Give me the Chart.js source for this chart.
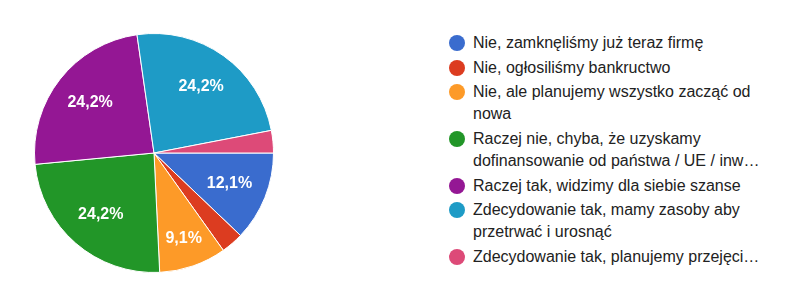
<!DOCTYPE html>
<html>
<head>
<meta charset="utf-8">
<script src="https://cdn.jsdelivr.net/npm/chart.js@4/dist/chart.umd.min.js"></script>
<style>
  html, body { margin: 0; padding: 0; background: #fff; }
  body { width: 798px; height: 292px; position: relative; overflow: hidden;
         font-family: "Liberation Sans", Arial, sans-serif; }
  #pieBox { position: absolute; left: 34px; top: 33px; width: 240px; height: 240px; }
  #legend { position: absolute; left: 449px; top: 32px; margin: 0; padding: 0; list-style: none; }
  #legend li { display: flex; align-items: flex-start; margin-bottom: 2.7px; }
  #legend .dot { width: 16px; height: 16px; border-radius: 50%; margin-top: 3px; flex: none; }
  #legend .txt { margin-left: 8px; width: 300px; font-size: 16px; line-height: 22px; color: #222; }
</style>
</head>
<body>
<div id="pieBox"><canvas id="pie"></canvas></div>
<ul id="legend"></ul>
<script>
// Answers (Polish survey), as shown in the legend
const categories = [
  'Nie, zamknęliśmy już teraz firmę',
  'Nie, ogłosiliśmy bankructwo',
  'Nie, ale planujemy wszystko zacząć od nowa',
  'Raczej nie, chyba, że uzyskamy dofinansowanie od państwa / UE / inw…',
  'Raczej tak, widzimy dla siebie szanse',
  'Zdecydowanie tak, mamy zasoby aby przetrwać i urosnąć',
  'Zdecydowanie tak, planujemy przejęci…',
];

// Number of responses per answer (33 in total)
const responses = [4, 1, 3, 8, 8, 8, 1];

const sliceColors = ['#3a6cce', '#dc3c20', '#fd9a28', '#229628', '#941794', '#1e9bc6', '#dd4a78'];

// Build the HTML legend (wraps like the original)
const legendEl = document.getElementById('legend');
categories.forEach((label, i) => {
  const li = document.createElement('li');
  li.innerHTML = '<span class="dot" style="background:' + sliceColors[i] + '"></span>' +
    '<span class="txt"></span>';
  li.querySelector('.txt').textContent = label;
  legendEl.appendChild(li);
});

// Percent labels inside the slices, e.g. "24,2%"
const sliceLabels = {
  id: 'sliceLabels',
  afterDatasetsDraw(chart) {
    const ctx = chart.ctx;
    const meta = chart.getDatasetMeta(0);
    const data = chart.data.datasets[0].data;
    const total = data.reduce((a, b) => a + b, 0);
    ctx.save();
    ctx.fillStyle = '#fff';
    ctx.font = 'bold 16px "Liberation Sans", Arial, sans-serif';
    ctx.textAlign = 'center';
    ctx.textBaseline = 'middle';
    meta.data.forEach((arc, i) => {
      const share = data[i] / total;
      if (share < 0.05) return; // too thin for a label
      const p = arc.getProps(['x', 'y', 'startAngle', 'endAngle', 'outerRadius'], true);
      const mid = (p.startAngle + p.endAngle) / 2;
      const r = p.outerRadius * (share < 0.1 ? 0.76 : 0.68);
      const text = (share * 100).toFixed(1).replace('.', ',') + '%';
      ctx.fillText(text, p.x + Math.cos(mid) * r, p.y + Math.sin(mid) * r);
    });
    ctx.restore();
  },
};

new Chart(document.getElementById('pie'), {
  type: 'pie',
  data: {
    labels: categories,
    datasets: [{
      data: responses,
      backgroundColor: sliceColors,
      borderColor: '#fff',
      borderWidth: 1,
    }],
  },
  options: {
    responsive: true,
    maintainAspectRatio: false,
    animation: false,
    rotation: 90,
    layout: { padding: 0 },
    plugins: {
      legend: { display: false },
      tooltip: { enabled: false },
    },
  },
  plugins: [sliceLabels],
});
</script>
</body>
</html>
